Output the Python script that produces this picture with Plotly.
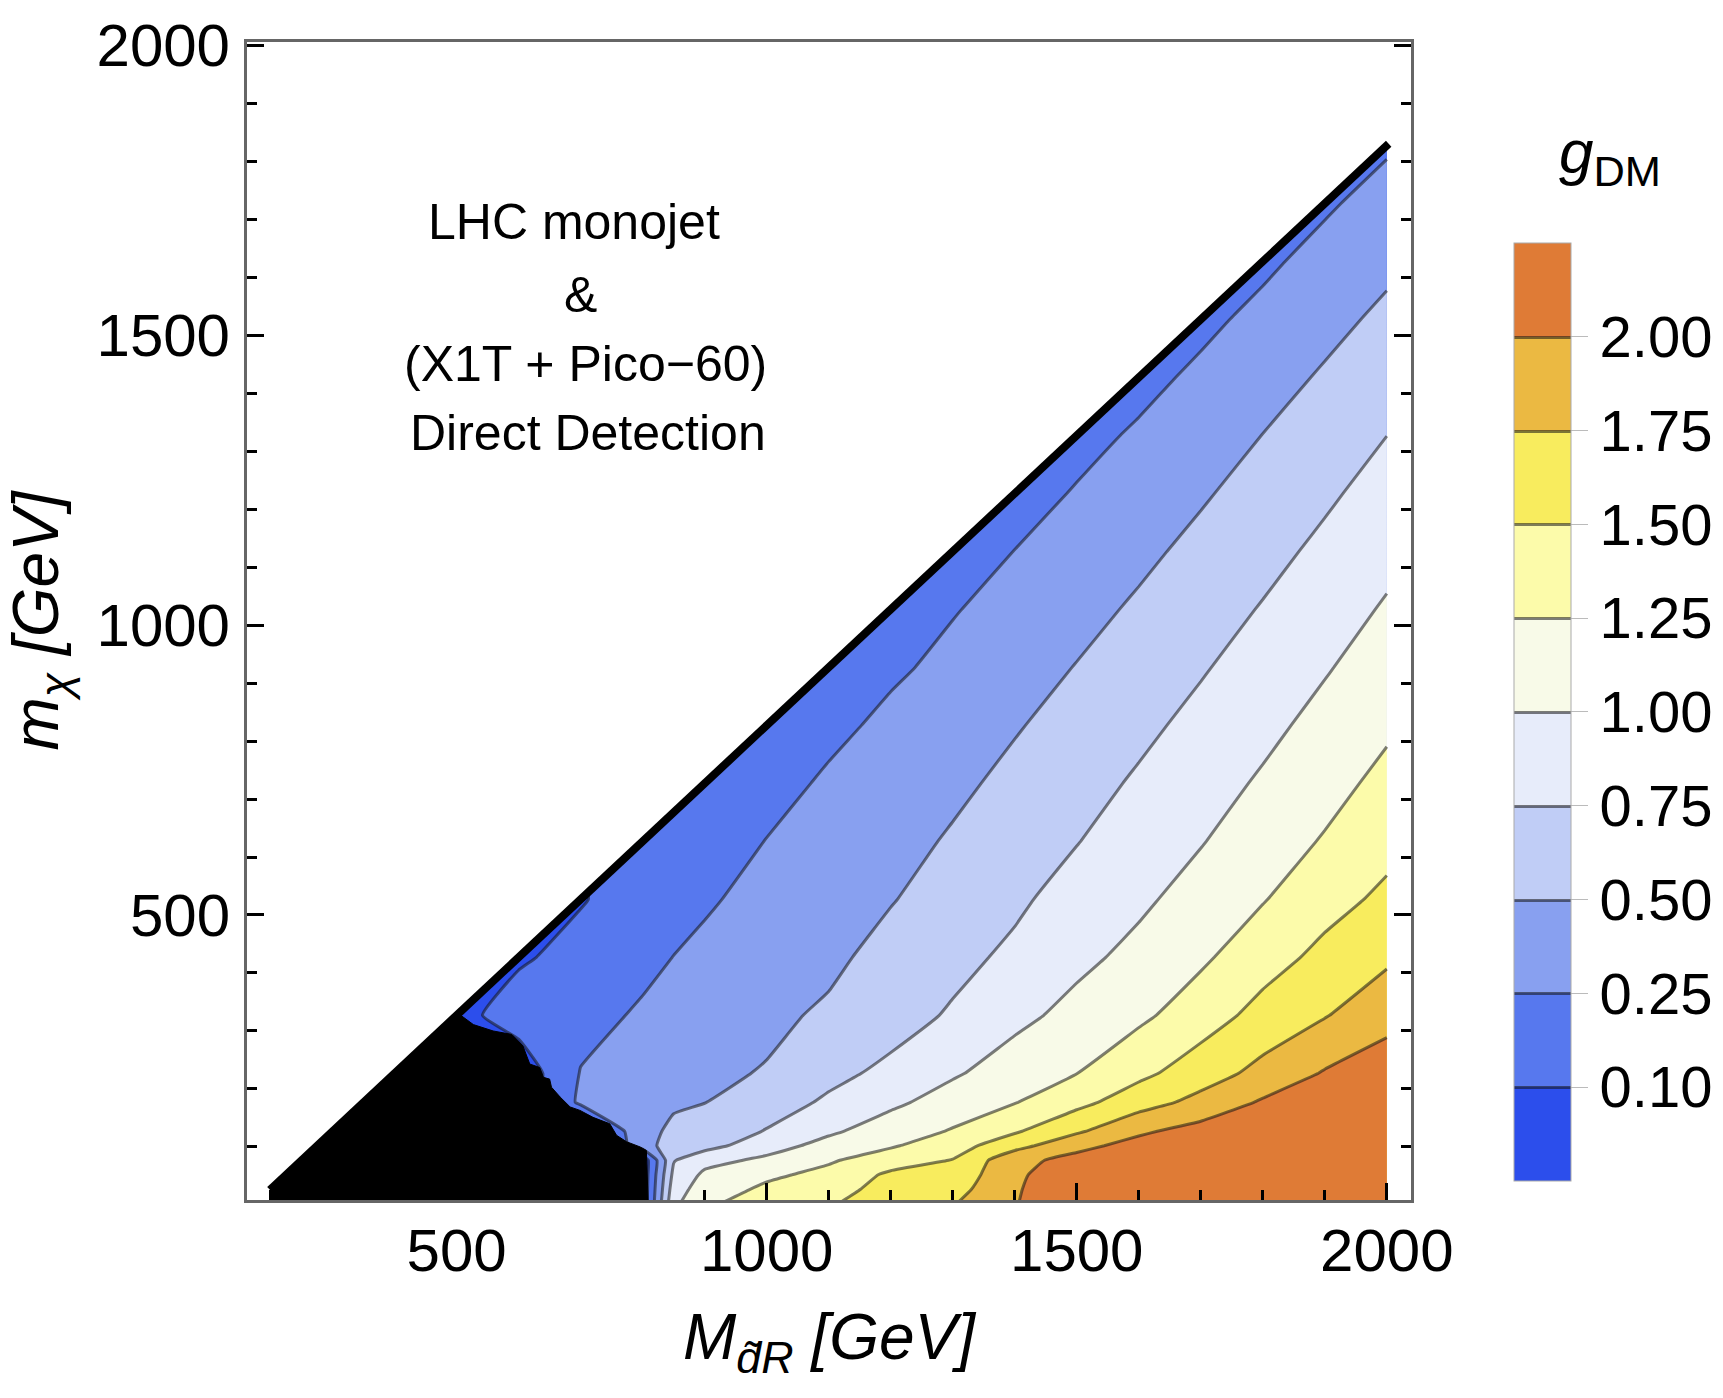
import numpy as np
import plotly.graph_objects as go

FONT = "Liberation Sans, Arial, Helvetica, sans-serif"

# ---------------- data ----------------
# grid of the scan: squark mass (x) and dark-matter mass (y), GeV
M_DR = [200, 300, 400, 500, 600, 700, 800, 850, 900, 1000, 1100, 1200,
        1300, 1400, 1500, 1600, 1700, 1800, 1900, 2000]
M_CHI = [0, 27, 52, 77, 102, 127, 177, 227, 327, 427, 527, 627, 727, 827,
         927, 1027, 1127, 1227, 1327, 1427, 1527, 1627, 1727, 1827]

N = None  # outside the kinematically allowed triangle
# g_DM estimated at every grid node, one list per M_DR column (bottom -> top)
G_COL_200 = [0, 0] + [N] * 22
G_COL_300 = [0, 0, 0, 0, 0, 0] + [N] * 18
G_COL_400 = [0, 0, 0, 0, 0, 0, 0, 0] + [N] * 16
G_COL_500 = [0, 0, 0, 0, 0, 0, 0, 0, 0.05] + [N] * 15
G_COL_600 = [0, 0, 0, 0, 0, 0, 0, 0, 0.17, 0.08] + [N] * 14
G_COL_700 = [0, 0, 0, 0, 0, 0, 0.29, 0.26, 0.203, 0.15, 0.09] + [N] * 13
G_COL_800 = [0, 0, 0, 0, 0.38, 0.42, 0.44, 0.41, 0.28, 0.215, 0.17, 0.11] + [N] * 12
G_COL_850 = [0.95, 0.876, 0.808, 0.735, 0.642, 0.549, 0.468, 0.425, 0.339,
             0.253, 0.199, 0.147] + [N] * 12
G_COL_900 = [1.22, 1.13, 1.047, 0.92, 0.66, 0.628, 0.495, 0.455, 0.377,
             0.299, 0.2335, 0.175, 0.12] + [N] * 11
G_COL_1000 = [1.36, 1.294, 1.206, 1.05, 0.903, 0.761, 0.651, 0.515, 0.45,
              0.385, 0.321, 0.256, 0.198, 0.14] + [N] * 10
G_COL_1100 = [1.48, 1.394, 1.314, 1.222, 1.08, 0.961, 0.782, 0.694, 0.535,
              0.45, 0.399, 0.335, 0.285, 0.215, 0.15] + [N] * 9
G_COL_1200 = [1.64, 1.60, 1.547, 1.378, 1.225, 1.123, 0.95, 0.80, 0.66,
              0.581, 0.487, 0.421, 0.355, 0.302, 0.2275, 0.16] + [N] * 8
G_COL_1300 = [1.74, 1.659, 1.584, 1.509, 1.392, 1.27, 1.106, 0.971, 0.775,
              0.687, 0.606, 0.525, 0.451, 0.379, 0.308, 0.242, 0.17] + [N] * 7
G_COL_1400 = [1.975, 1.96, 1.95, 1.93, 1.664, 1.471, 1.24, 1.119, 0.936,
              0.795, 0.71, 0.634, 0.558, 0.482, 0.405, 0.329, 0.253,
              0.203] + [N] * 6
G_COL_1500 = [2.4, 2.286, 2.181, 2.076, 1.935, 1.714, 1.426, 1.247, 1.073,
              0.942, 0.841, 0.742, 0.664, 0.586, 0.508, 0.427, 0.346, 0.265,
              0.212] + [N] * 5
G_COL_1600 = [2.5, 2.389, 2.287, 2.184, 2.082, 1.961, 1.642, 1.439, 1.199,
              1.066, 0.956, 0.868, 0.78, 0.696, 0.615, 0.533, 0.449, 0.363,
              0.277, 0.214] + [N] * 4
G_COL_1700 = [2.6, 2.492, 2.392, 2.292, 2.192, 2.092, 1.827, 1.631, 1.381,
              1.209, 1.096, 0.987, 0.901, 0.815, 0.729, 0.645, 0.561, 0.474,
              0.383, 0.291, 0.22] + [N] * 3
G_COL_1800 = [2.6, 2.513, 2.432, 2.352, 2.271, 2.19, 2.029, 1.826, 1.583,
              1.398, 1.236, 1.133, 1.03, 0.938, 0.852, 0.765, 0.677, 0.59,
              0.503, 0.405, 0.307, 0.225] + [N] * 2
G_COL_1900 = [2.6, 2.531, 2.467, 2.403, 2.34, 2.276, 2.148, 2.02, 1.736,
              1.566, 1.412, 1.269, 1.168, 1.074, 0.98, 0.891, 0.802, 0.712,
              0.62, 0.528, 0.428, 0.324, 0.232, N]
G_COL_2000 = [2.6, 2.544, 2.493, 2.441, 2.39, 2.338, 2.235, 2.132, 1.917,
              1.708, 1.552, 1.426, 1.315, 1.212, 1.118, 1.025, 0.933, 0.841,
              0.749, 0.651, 0.552, 0.447, 0.335, 0.234]

G_COLUMNS = [G_COL_200, G_COL_300, G_COL_400, G_COL_500, G_COL_600, G_COL_700,
             G_COL_800, G_COL_850, G_COL_900, G_COL_1000, G_COL_1100,
             G_COL_1200, G_COL_1300, G_COL_1400, G_COL_1500, G_COL_1600,
             G_COL_1700, G_COL_1800, G_COL_1900, G_COL_2000]

# contour levels and colour bands
G_LEVELS = [0.10, 0.25, 0.50, 0.75, 1.00, 1.25, 1.50, 1.75, 2.00]
LEVEL_LABELS = ["0.10", "0.25", "0.50", "0.75", "1.00", "1.25", "1.50",
                "1.75", "2.00"]
BAND_COLORS = ["#2c4eec", "#5778ee", "#88a0f0", "#c0cdf6", "#e7ecfa",
               "#f8fae8", "#fcfbaa", "#f8ec5e", "#ebb942", "#df7b36"]

# LHC monojet excluded region (black), boundary points
EXCL_M = [200, 200, 503, 527, 559, 589, 607, 618, 634, 640, 650, 653, 667,
          683, 699, 720, 747, 758, 774, 796, 806, 809, 809]
EXCL_MCHI = [0, 27, 330, 311, 300, 294, 274, 243, 237, 220, 217, 203, 186,
             169, 163, 151, 140, 120, 109, 100, 94, 10, 0]

# kinematic boundary m_chi = M - m_top
DIAG_M = [199, 2003]
DIAG_MCHI = [26, 1830]

# ---------------- figure ----------------
g = np.array(G_COLUMNS, dtype=float).T  # rows = m_chi, cols = M
# map g onto a level index so that the non-uniform levels become uniform
n_lev = len(G_LEVELS)
idx_in = [0.0] + G_LEVELS + [3.0]
idx_out = [1 - G_LEVELS[0] / (G_LEVELS[1] - G_LEVELS[0])] + list(range(1, n_lev + 1)) \
    + [n_lev + (3.0 - G_LEVELS[-1]) / (G_LEVELS[-1] - G_LEVELS[-2])]
level_idx = np.interp(g, idx_in, idx_out)
level_idx[np.isnan(g)] = np.nan

nb = len(BAND_COLORS)
colorscale = [[k / (nb - 1), c] for k, c in enumerate(BAND_COLORS)]

fig = go.Figure()

fig.add_trace(go.Contour(
    x=M_DR, y=M_CHI, z=level_idx,
    connectgaps=True,
    colorscale=colorscale, zmin=0, zmax=n_lev + 1, zauto=False,
    contours=dict(start=1, end=n_lev, size=1, coloring="fill",
                  showlines=True),
    line=dict(color="rgba(20,20,20,0.55)", width=3, smoothing=0.4),
    hoverinfo="skip",
    colorbar=dict(
        xref="container", x=1514 / 1723, xanchor="left",
        y=(1200 - 709) / 1165, yanchor="middle",
        len=938, lenmode="pixels", thickness=57, thicknessmode="pixels",
        xpad=0, ypad=0, outlinewidth=1, outlinecolor="#aaaaaa",
        tickmode="array", tickvals=list(range(1, n_lev + 1)),
        ticktext=LEVEL_LABELS, ticks="outside", ticklen=17, tickwidth=1,
        tickcolor="#bbbbbb",
        tickfont=dict(size=58, family=FONT, color="black"),
    ),
))

# white area above the kinematic boundary
fig.add_trace(go.Scatter(
    x=[100, 2100, 2100, 100], y=[-73, 1927, 2200, 2200],
    mode="lines", fill="toself", fillcolor="white",
    line=dict(width=0, color="white"), hoverinfo="skip", showlegend=False))

# excluded region
fig.add_trace(go.Scatter(
    x=EXCL_M, y=EXCL_MCHI, mode="lines", fill="toself", fillcolor="black",
    line=dict(width=1, color="black"), hoverinfo="skip", showlegend=False))

# boundary line
fig.add_trace(go.Scatter(
    x=DIAG_M, y=DIAG_MCHI, mode="lines",
    line=dict(width=8, color="black"), hoverinfo="skip", showlegend=False))

axis_common = dict(
    showline=True, linecolor="#666666", linewidth=3,
    ticks="inside", tick0=0, dtick=500, ticklen=17, tickwidth=2.5,
    tickcolor="black",
    minor=dict(ticks="inside", tick0=0, dtick=100, ticklen=10, tickwidth=2.5,
               tickcolor="black"),
    showgrid=False, zeroline=False,
    tickfont=dict(size=60, family=FONT, color="black"),
)

fig.update_layout(
    width=1723, height=1398, autosize=False,
    margin=dict(l=247, r=312, t=35, b=198),
    paper_bgcolor="white", plot_bgcolor="white",
    showlegend=False, hovermode=False,
    font=dict(family=FONT, color="black"),
    xaxis=dict(range=[162, 2039], mirror=True, ticklabelstandoff=-4,
               title=dict(text="<i>M</i><sub><i>d\u0303R</i></sub><i> [GeV]</i>",
                          font=dict(size=64, family=FONT), standoff=32),
               **axis_common),
    yaxis=dict(range=[8.5, 2005.5], mirror="ticks", ticklabelstandoff=2,
               title=dict(text="<i>m</i><sub><i>\u03c7</i></sub><i> [GeV]</i>",
                          font=dict(size=64, family=FONT), standoff=36),
               **axis_common),
)

ann_font = dict(size=50, family=FONT, color="black")
TEXT_LINES = ["LHC monojet", "&amp;", "(X1T + Pico\u221260)", "Direct Detection"]
TEXT_X = [689, 699, 708, 712]
TEXT_Y = [1695, 1569, 1450, 1332]
for t, tx, ty in zip(TEXT_LINES, TEXT_X, TEXT_Y):
    fig.add_annotation(x=tx, y=ty, xref="x", yref="y", text=t, showarrow=False,
                       font=ann_font, xanchor="center", yanchor="middle")

fig.add_annotation(x=(1610 - 247) / 1164, y=(1200 - 150) / 1165,
                   xref="paper", yref="paper",
                   text="<i>g</i><sub>DM</sub>", showarrow=False,
                   font=dict(size=62, family=FONT, color="black"),
                   xanchor="center", yanchor="middle")

fig.write_html("out.html")
